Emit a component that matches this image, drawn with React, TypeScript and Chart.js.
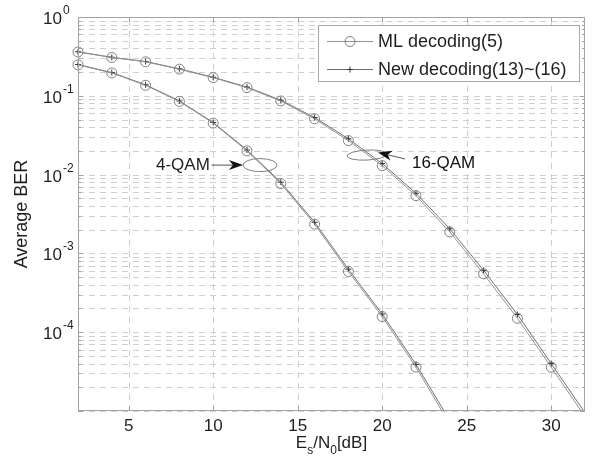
import { useEffect, useRef } from "react";
import { Chart, registerables } from "chart.js";
Chart.register(...registerables);

// ---- data ----
const snr4 = [2, 4, 6, 8, 10, 12, 14, 16, 18, 20, 22, 24];
const ml4 = [0.247, 0.195, 0.136, 0.085, 0.045, 0.02, 0.0077, 0.00235, 5.9e-4, 1.58e-4, 3.6e-5, 6.8e-6];
const new4 = [0.25, 0.197, 0.138, 0.086, 0.0458, 0.0205, 0.008, 0.00248, 6.3e-4, 1.7e-4, 3.9e-5, 7.6e-6];

const snr16 = [2, 4, 6, 8, 10, 12, 14, 16, 18, 20, 22, 24, 26, 28, 30, 32];
const ml16 = [0.36, 0.306, 0.27, 0.218, 0.17, 0.127, 0.086, 0.051, 0.027, 0.013, 0.0054, 0.00187, 5.5e-4, 1.5e-4, 3.6e-5, 8.5e-6];
const new16 = [0.362, 0.308, 0.272, 0.22, 0.172, 0.129, 0.088, 0.053, 0.0285, 0.0138, 0.0058, 0.00205, 6.1e-4, 1.68e-4, 4.0e-5, 9.5e-6];

const xTicks = [5, 10, 15, 20, 25, 30];
const yDecades = [-5, -4, -3, -2, -1, 0];
const yLabelDecades = [-4, -3, -2, -1, 0];
const legendLabels = ["ML decoding(5)", "New decoding(13)~(16)"];

const FONT = "'Liberation Sans', Arial, sans-serif";
const TXT = "#1e1e1e";
const ML_LINE = "#939393";
const ML_MARK = "#808080";
const NEW_LINE = "#707070";
const NEW_MARK = "#333333";

function pts(xs: number[], ys: number[]) {
  return xs.map((x, i) => ({ x, y: ys[i] }));
}

function arrow(ctx: CanvasRenderingContext2D, x1: number, y1: number, x2: number, y2: number) {
  const ang = Math.atan2(y2 - y1, x2 - x1);
  const L = 14, W = 5, N = 10;
  ctx.beginPath();
  ctx.moveTo(x1, y1);
  ctx.lineTo(x2 - Math.cos(ang) * N, y2 - Math.sin(ang) * N);
  ctx.strokeStyle = "#555";
  ctx.lineWidth = 1;
  ctx.stroke();
  const bx = x2 - Math.cos(ang) * L, by = y2 - Math.sin(ang) * L;
  const nx = -Math.sin(ang), ny = Math.cos(ang);
  ctx.beginPath();
  ctx.moveTo(x2, y2);
  ctx.lineTo(bx + nx * W, by + ny * W);
  ctx.lineTo(x2 - Math.cos(ang) * N, y2 - Math.sin(ang) * N);
  ctx.lineTo(bx - nx * W, by - ny * W);
  ctx.closePath();
  ctx.fillStyle = "#111";
  ctx.fill();
}

const customPlugin = {
  id: "custom",
  beforeDatasetsDraw(chart: any) {
    const { ctx, chartArea: a, scales } = chart;
    const x = scales.x, y = scales.y;
    ctx.save();
    ctx.strokeStyle = "#cfcfcf";
    ctx.lineWidth = 1;
    ctx.setLineDash([6, 5]);
    for (const t of xTicks) {
      const px = Math.round(x.getPixelForValue(t)) + 0.5;
      ctx.beginPath();
      ctx.moveTo(px, a.bottom);
      ctx.lineTo(px, a.top);
      ctx.stroke();
    }
    for (const d of yDecades) {
      for (let m = 1; m <= 9; m++) {
        const v = m * Math.pow(10, d);
        if (v < 1e-5 * 0.999 || v > 1.001) continue;
        const py = Math.round(y.getPixelForValue(v)) + 0.5;
        ctx.beginPath();
        ctx.moveTo(a.left, py);
        ctx.lineTo(a.right, py);
        ctx.stroke();
      }
    }
    ctx.restore();
  },
  afterDatasetsDraw(chart: any) {
    const { ctx, scales } = chart;
    const x = scales.x, y = scales.y;
    const X = (v: number) => x.getPixelForValue(v);
    const Y = (v: number) => y.getPixelForValue(v);
    ctx.save();
    ctx.font = `17px ${FONT}`;
    ctx.fillStyle = TXT;
    ctx.textBaseline = "middle";
    // 4-QAM
    ctx.textAlign = "right";
    ctx.fillText("4-QAM", X(9.8), Y(0.0132));
    ctx.beginPath();
    ctx.ellipse(X(12.77), Y(0.0132), 17, 6.5, 0, 0, Math.PI * 2);
    ctx.strokeStyle = "#808080";
    ctx.lineWidth = 1;
    ctx.stroke();
    arrow(ctx, X(9.9), Y(0.0132), X(11.76), Y(0.0132));
    // 16-QAM
    ctx.textAlign = "left";
    ctx.fillText("16-QAM", X(21.76), Y(0.014));
    ctx.beginPath();
    ctx.ellipse(X(19.1), Y(0.0177), 20, 5, -0.05, 0, Math.PI * 2);
    ctx.strokeStyle = "#808080";
    ctx.stroke();
    arrow(ctx, X(21.35), Y(0.0158), X(19.75), Y(0.0191));
    ctx.restore();
  },
  afterDraw(chart: any) {
    const { ctx, chartArea: a, scales } = chart;
    const x = scales.x, y = scales.y;
    ctx.save();
    // frame
    ctx.strokeStyle = "#a3a3a3";
    ctx.lineWidth = 1;
    ctx.strokeRect(a.left + 0.5, a.top + 0.5, a.right - a.left - 1, a.bottom - a.top - 1);
    // tick marks
    ctx.beginPath();
    for (const t of xTicks) {
      const px = Math.round(x.getPixelForValue(t)) + 0.5;
      ctx.moveTo(px, a.bottom); ctx.lineTo(px, a.bottom - 5);
      ctx.moveTo(px, a.top); ctx.lineTo(px, a.top + 5);
    }
    for (const d of yDecades) {
      for (let m = 1; m <= 9; m++) {
        const v = m * Math.pow(10, d);
        if (v < 1e-5 * 0.999 || v > 1.001) continue;
        const py = Math.round(y.getPixelForValue(v)) + 0.5;
        const len = m === 1 ? 5 : 3;
        ctx.moveTo(a.left, py); ctx.lineTo(a.left + len, py);
        ctx.moveTo(a.right, py); ctx.lineTo(a.right - len, py);
      }
    }
    ctx.stroke();

    ctx.fillStyle = TXT;
    // x tick labels
    ctx.font = `17px ${FONT}`;
    ctx.textAlign = "center";
    ctx.textBaseline = "alphabetic";
    for (const t of xTicks) {
      ctx.fillText(String(t), x.getPixelForValue(t), 431);
    }
    // y tick labels with superscripts
    for (const d of yLabelDecades) {
      const py = y.getPixelForValue(Math.pow(10, d));
      ctx.font = `17px ${FONT}`;
      ctx.textAlign = "right";
      ctx.fillText("10", 62, py + 7);
      ctx.font = `12px ${FONT}`;
      ctx.textAlign = "left";
      ctx.fillText(String(d), 63, py - 3);
    }
    // y title
    ctx.save();
    ctx.translate(22, (a.top + a.bottom) / 2);
    ctx.rotate(-Math.PI / 2);
    ctx.font = `18px ${FONT}`;
    ctx.textAlign = "center";
    ctx.textBaseline = "middle";
    ctx.fillText("Average BER", 0, 0);
    ctx.restore();
    // x title E_s/N_0[dB]
    const parts: [string, boolean][] = [["E", false], ["s", true], ["/N", false], ["0", true], ["[dB]", false]];
    let total = 0;
    for (const [s, sub] of parts) {
      ctx.font = sub ? `12px ${FONT}` : `17px ${FONT}`;
      total += ctx.measureText(s).width;
    }
    let cx = (a.left + a.right) / 2 - total / 2;
    ctx.textAlign = "left";
    ctx.textBaseline = "alphabetic";
    for (const [s, sub] of parts) {
      ctx.font = sub ? `12px ${FONT}` : `17px ${FONT}`;
      ctx.fillText(s, cx, sub ? 454 : 448);
      cx += ctx.measureText(s).width;
    }
    // legend
    const bx = 318, by = 25, bw = 261, bh = 56;
    ctx.fillStyle = "#ffffff";
    ctx.fillRect(bx, by, bw, bh);
    ctx.strokeStyle = "#a8a8a8";
    ctx.strokeRect(bx + 0.5, by + 0.5, bw, bh);
    const rows = [
      { y: 41, base: 47, line: ML_LINE },
      { y: 69, base: 75, line: NEW_LINE },
    ];
    rows.forEach((r, i) => {
      ctx.beginPath();
      ctx.moveTo(327, r.y + 0.5);
      ctx.lineTo(373, r.y + 0.5);
      ctx.strokeStyle = r.line;
      ctx.lineWidth = 1;
      ctx.stroke();
      if (i === 0) {
        ctx.beginPath();
        ctx.arc(350, r.y + 0.5, 5, 0, Math.PI * 2);
        ctx.strokeStyle = ML_MARK;
        ctx.stroke();
      } else {
        ctx.beginPath();
        ctx.moveTo(347, r.y + 0.5); ctx.lineTo(353, r.y + 0.5);
        ctx.moveTo(350, r.y - 2.5); ctx.lineTo(350, r.y + 3.5);
        ctx.strokeStyle = NEW_MARK;
        ctx.stroke();
      }
      ctx.fillStyle = TXT;
      ctx.font = `18px ${FONT}`;
      ctx.textAlign = "left";
      ctx.textBaseline = "alphabetic";
      ctx.fillText(legendLabels[i], 378, r.base);
    });
    ctx.restore();
  },
};

export default function App() {
  const ref = useRef<HTMLCanvasElement | null>(null);
  useEffect(() => {
    if (!ref.current) return;
    const lastHidden = (n: number, r: number) => (c: any) => (c.dataIndex === n - 1 ? 0 : r);
    const clip = { left: 8, top: 8, right: 0, bottom: 0 };
    const mk = (label: string, data: any[], isML: boolean) => ({
      label,
      data,
      showLine: true,
      borderColor: isML ? ML_LINE : NEW_LINE,
      borderWidth: 1,
      pointStyle: isML ? "circle" : "cross",
      pointRadius: lastHidden(data.length, isML ? 5 : 3),
      pointBorderColor: isML ? ML_MARK : NEW_MARK,
      pointBackgroundColor: "rgba(0,0,0,0)",
      pointBorderWidth: 1,
      tension: 0,
      clip,
    });
    const chart = new Chart(ref.current, {
      type: "scatter",
      data: {
        datasets: [
          mk("ML 4-QAM", pts(snr4, ml4), true),
          mk("New 4-QAM", pts(snr4, new4), false),
          mk("ML 16-QAM", pts(snr16, ml16), true),
          mk("New 16-QAM", pts(snr16, new16), false),
        ] as any,
      },
      options: {
        responsive: false,
        animation: false,
        layout: { padding: { left: 78, top: 17, right: 19, bottom: 54 } },
        plugins: { legend: { display: false }, tooltip: { enabled: false } },
        scales: {
          x: { type: "linear", min: 2, max: 32, display: false },
          y: { type: "logarithmic", min: 1e-5, max: 1, display: false },
        },
      },
      plugins: [customPlugin],
    });
    return () => chart.destroy();
  }, []);
  return (
    <div style={{ position: "absolute", left: 0, top: 0, width: 604, height: 465, background: "#fff" }}>
      <canvas ref={ref} width={604} height={465} style={{ display: "block" }} />
    </div>
  );
}
